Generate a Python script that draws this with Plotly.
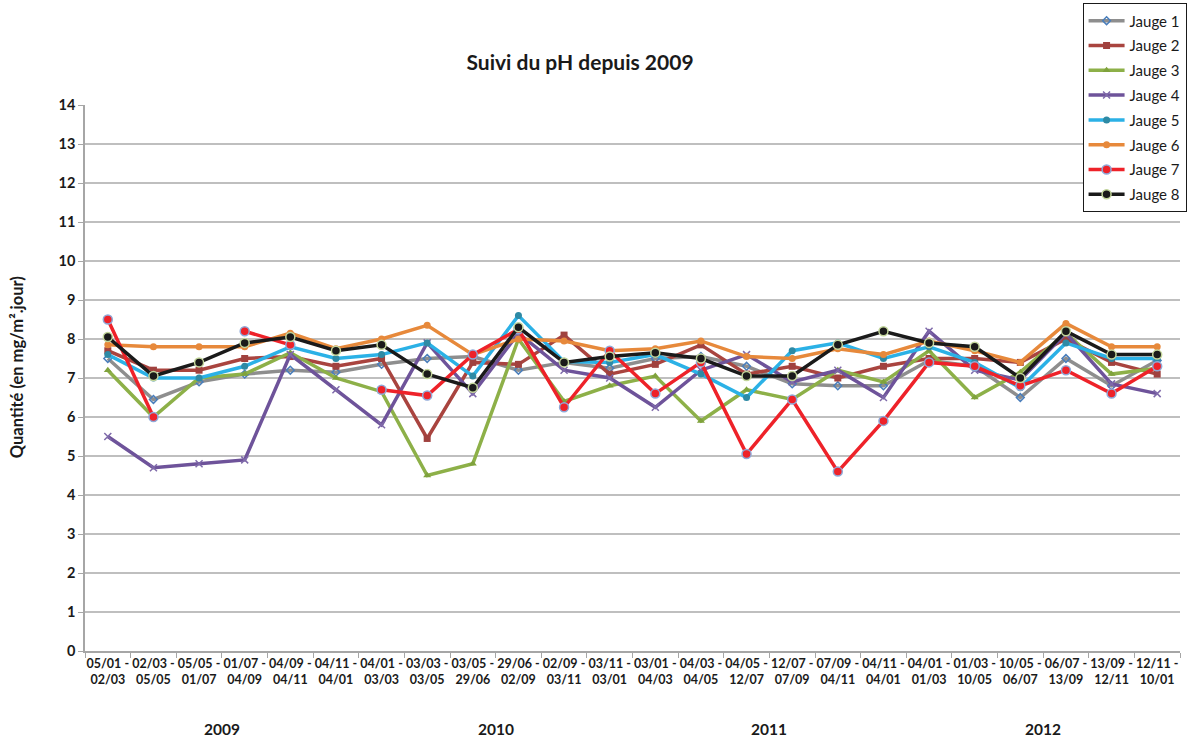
import plotly.graph_objects as go

periods = ["05/01 -<br>02/03", "02/03 -<br>05/05", "05/05 -<br>01/07", "01/07 -<br>04/09",
           "04/09 -<br>04/11", "04/11 -<br>04/01", "04/01 -<br>03/03", "03/03 -<br>03/05",
           "03/05 -<br>29/06", "29/06 -<br>02/09", "02/09 -<br>03/11", "03/11 -<br>03/01",
           "03/01 -<br>04/03", "04/03 -<br>04/05", "04/05 -<br>12/07", "12/07 -<br>07/09",
           "07/09 -<br>04/11", "04/11 -<br>04/01", "04/01 -<br>01/03", "01/03 -<br>10/05",
           "10/05 -<br>06/07", "06/07 -<br>13/09", "13/09 -<br>12/11", "12/11 -<br>10/01"]
years = ["2009", "2010", "2011", "2012"]
periods_per_year = 6

jauge1 = [7.5, 6.45, 6.9, 7.1, 7.2, 7.15, 7.35, 7.5, 7.55, 7.2, 7.4, 7.25,
          7.5, 7.55, 7.3, 6.85, 6.8, 6.8, 7.45, 7.3, 6.5, 7.5, 6.8, 7.45]
jauge2 = [7.7, 7.2, 7.2, 7.5, 7.55, 7.3, 7.5, 5.45, 7.4, 7.35, 8.1, 7.1,
          7.35, 7.85, 7.1, 7.3, 7.0, 7.3, 7.5, 7.5, 7.4, 8.0, 7.4, 7.1]
jauge3 = [7.2, 6.0, 7.0, 7.1, 7.65, 7.0, 6.65, 4.5, 4.8, 8.0, 6.4, 6.8,
          7.05, 5.9, 6.7, 6.45, 7.2, 6.9, 7.7, 6.5, 7.15, 8.15, 7.1, 7.25]
jauge4 = [5.5, 4.7, 4.8, 4.9, 7.6, 6.7, 5.8, 7.9, 6.6, 8.15, 7.2, 7.0,
          6.25, 7.2, 7.6, 6.9, 7.2, 6.5, 8.2, 7.2, 6.95, 8.15, 6.85, 6.6]
jauge5 = [7.6, 7.0, 7.0, 7.3, 7.8, 7.5, 7.6, 7.9, 7.05, 8.6, 7.42, 7.4,
          7.6, 7.1, 6.5, 7.7, 7.9, 7.5, 7.8, 7.4, 6.75, 7.9, 7.5, 7.5]
jauge6 = [7.85, 7.8, 7.8, 7.8, 8.15, 7.75, 8.0, 8.35, 7.6, 8.0, 7.95, 7.7,
          7.75, 7.95, 7.55, 7.5, 7.75, 7.6, 7.95, 7.7, 7.4, 8.4, 7.8, 7.8]
jauge7 = [8.5, 6.0, None, 8.2, 7.85, None, 6.7, 6.55, 7.6, 8.25, 6.25, 7.7,
          6.6, 7.4, 5.05, 6.45, 4.6, 5.9, 7.4, 7.3, 6.8, 7.2, 6.6, 7.3]
jauge8 = [8.05, 7.05, 7.4, 7.9, 8.05, 7.7, 7.85, 7.1, 6.75, 8.3, 7.4, 7.55,
          7.65, 7.5, 7.05, 7.05, 7.85, 8.2, 7.9, 7.8, 7.0, 8.2, 7.6, 7.6]

FONT = "Lato, 'DejaVu Sans', sans-serif"
idx = list(range(len(periods)))

series = [
    ("Jauge 1", jauge1, "#8E8E8E", dict(symbol="diamond-open", size=6, color="#4A7EBB", line=dict(width=1.5, color="#4A7EBB"))),
    ("Jauge 2", jauge2, "#A9443F", dict(symbol="square", size=7, color="#A0413E")),
    ("Jauge 3", jauge3, "#8DB048", dict(symbol="triangle-up", size=7, color="#7FA23C")),
    ("Jauge 4", jauge4, "#6E539A", dict(symbol="x-thin", size=7, color="#6E539A", line=dict(width=1.5, color="#7F6AAA"))),
    ("Jauge 5", jauge5, "#2BB1E6", dict(symbol="circle", size=7, color="#2E8AA5")),
    ("Jauge 6", jauge6, "#E7893B", dict(symbol="circle", size=7, color="#E7893B")),
    ("Jauge 7", jauge7, "#EE2229", dict(symbol="circle", size=9, color="#EE2229", line=dict(width=1.5, color="#8FA9D8"))),
    ("Jauge 8", jauge8, "#1A1A1A", dict(symbol="circle", size=9, color="#1A1A1A", line=dict(width=1.5, color="#C3D69B"))),
]

fig = go.Figure()
for name, vals, col, mk in series:
    fig.add_trace(go.Scatter(
        x=idx, y=vals, name=name, legendgroup=name, mode="lines+markers",
        line=dict(color=col, width=3.5), marker=mk, connectgaps=False,
    ))

annotations = []
for k, yr in enumerate(years):
    c = k * periods_per_year + (periods_per_year - 1) / 2
    annotations.append(dict(text=yr, x=c, xref="x", y=-0.143, yref="paper",
                            showarrow=False, yanchor="middle",
                            font=dict(family=FONT, size=15.5, color="#1A1A1A", weight="bold")))
annotations.append(dict(text="Quantité (en mg/m².jour)", x=-0.062, xref="paper", y=0.52, yref="paper",
                        textangle=-90, showarrow=False, xanchor="center", yanchor="middle",
                        font=dict(family=FONT, size=16.5, color="#1A1A1A", weight="bold")))

fig.update_layout(
    width=1192, height=742,
    paper_bgcolor="white", plot_bgcolor="white",
    margin=dict(l=85, r=12, t=105, b=91, autoexpand=False),
    title=dict(text="Suivi du pH depuis 2009", x=0.4866, xref="container", xanchor="center",
               y=0.916, yref="container", yanchor="middle",
               font=dict(family=FONT, size=21, color="#1A1A1A", weight="bold")),
    showlegend=True,
    legend=dict(x=1.006, xanchor="right", y=1.186, yanchor="top", xref="paper", yref="paper",
                bgcolor="white", bordercolor="#1A1A1A", borderwidth=1,
                font=dict(family=FONT, size=15, color="#1A1A1A"),
                tracegroupgap=2.3, itemwidth=36),
    xaxis=dict(range=[-0.5, len(periods) - 0.5], showgrid=False, showline=True,
               linecolor="#A6A6A6", linewidth=1.5, zeroline=False,
               tickmode="array", tickvals=idx, ticktext=periods, ticks="",
               tickangle=0, automargin=False,
               minor=dict(tickmode="array", tickvals=[i - 0.5 for i in range(len(periods) + 1)],
                          ticks="outside", ticklen=5, tickcolor="#A6A6A6", showgrid=False),
               tickfont=dict(family=FONT, size=12.5, color="#1A1A1A", weight="bold")),
    yaxis=dict(range=[0, 14], dtick=1, showgrid=True, gridcolor="#BFBFBF", gridwidth=1.5,
               showline=True, linecolor="#A6A6A6", linewidth=1.5, ticks="outside", ticklen=5,
               tickcolor="#A6A6A6", zeroline=False, automargin=False,
               tickfont=dict(family=FONT, size=14.5, color="#1A1A1A", weight="bold")),
    annotations=annotations,
)

fig.write_html("out.html", config={"displayModeBar": False},
               post_script="document.body.style.margin='0';")
